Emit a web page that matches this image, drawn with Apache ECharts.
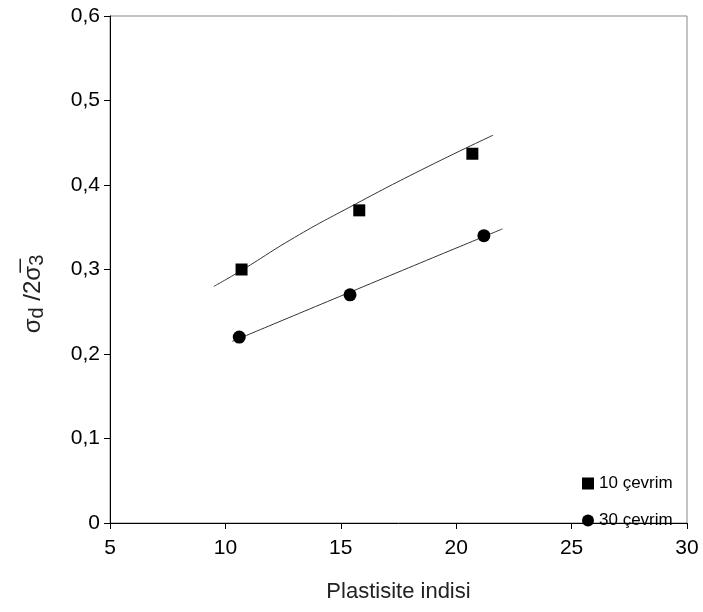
<!DOCTYPE html>
<html>
<head>
<meta charset="utf-8">
<script src="https://cdn.jsdelivr.net/npm/echarts@6/dist/echarts.min.js"></script>
<style>
  html, body { margin: 0; padding: 0; background: #fff; }
  #chart { width: 703px; height: 612px; }
</style>
</head>
<body>
<div id="chart"></div>
<script>
// Measured points: plasticity index vs. stress ratio
const pi10 = [10.7, 15.8, 20.7];
const ratio10 = [0.30, 0.37, 0.437];
const pi30 = [10.6, 15.4, 21.2];
const ratio30 = [0.22, 0.27, 0.34];

// Trend curves drawn through the measurements
const trend10X = [9.5, 10.7, 13.0, 15.4, 18.5, 21.6];
const trend10Y = [0.280, 0.299, 0.338, 0.374, 0.418, 0.459];
const trend30X = [10.3, 16.0, 22.0];
const trend30Y = [0.215, 0.280, 0.348];

// Axis ticks
const xTicks = [5, 10, 15, 20, 25, 30];
const yTicks = [0, 0.1, 0.2, 0.3, 0.4, 0.5, 0.6];

const seriesNames = ['10 çevrim', '30 çevrim'];

const zip = (xs, ys) => xs.map((x, i) => [x, ys[i]]);
const font = 'Liberation Sans, Arial, sans-serif';

const chart = echarts.init(document.getElementById('chart'));
chart.setOption({
  animation: false,
  backgroundColor: '#fff',
  grid: { left: 110, right: 16, top: 16, bottom: 89, show: true, borderColor: '#888', borderWidth: 1 },
  legend: {
    data: seriesNames,
    orient: 'vertical',
    left: 577,
    top: 470,
    itemGap: 20,
    itemWidth: 12,
    itemHeight: 12,
    textStyle: { fontFamily: font, fontSize: 17, color: '#000' }
  },
  // Vertical axis title: σd / 2σ̄3
  graphic: [{
    type: 'text',
    x: 33,
    y: 294,
    rotation: Math.PI / 2,
    style: {
      text: '{s|σ}{sub|d}{s| /2σ̅}{sub|3}',
      align: 'center',
      verticalAlign: 'middle',
      fill: '#222',
      rich: {
        s: { fontFamily: font, fontSize: 24, fill: '#222' },
        sub: { fontFamily: font, fontSize: 20, fill: '#222', padding: [9, 0, 0, 0] }
      }
    }
  }],
  xAxis: {
    type: 'value',
    min: xTicks[0],
    max: xTicks[xTicks.length - 1],
    interval: 5,
    name: 'Plastisite indisi',
    nameLocation: 'middle',
    nameGap: 58,
    nameTextStyle: { fontFamily: font, fontSize: 22, color: '#222' },
    axisLine: { lineStyle: { color: '#000', width: 1 } },
    axisTick: { show: true, inside: false, length: 6, lineStyle: { color: '#000' } },
    axisLabel: { fontFamily: font, fontSize: 21, color: '#000', margin: 15 },
    splitLine: { show: false }
  },
  yAxis: {
    type: 'value',
    min: yTicks[0],
    max: yTicks[yTicks.length - 1],
    interval: 0.1,
    axisLine: { show: true, lineStyle: { color: '#000', width: 1 } },
    axisTick: { show: true, length: 6, lineStyle: { color: '#000' } },
    axisLabel: {
      fontFamily: font, fontSize: 21, color: '#000', margin: 10,
      formatter: v => String(Math.round(v * 10) / 10).replace('.', ',')
    },
    splitLine: { show: false }
  },
  series: [
    {
      name: 'trend10', type: 'line', data: zip(trend10X, trend10Y),
      smooth: true, showSymbol: false, symbol: 'none', silent: true,
      lineStyle: { color: '#333', width: 1 }, z: 1
    },
    {
      name: 'trend30', type: 'line', data: zip(trend30X, trend30Y),
      smooth: true, showSymbol: false, symbol: 'none', silent: true,
      lineStyle: { color: '#333', width: 1 }, z: 1
    },
    {
      name: seriesNames[0], type: 'scatter', data: zip(pi10, ratio10),
      symbol: 'rect', symbolSize: 12, itemStyle: { color: '#000', opacity: 1 }, z: 3
    },
    {
      name: seriesNames[1], type: 'scatter', data: zip(pi30, ratio30),
      symbol: 'circle', symbolSize: 13, itemStyle: { color: '#000', opacity: 1 }, z: 3
    }
  ]
});
</script>
</body>
</html>
